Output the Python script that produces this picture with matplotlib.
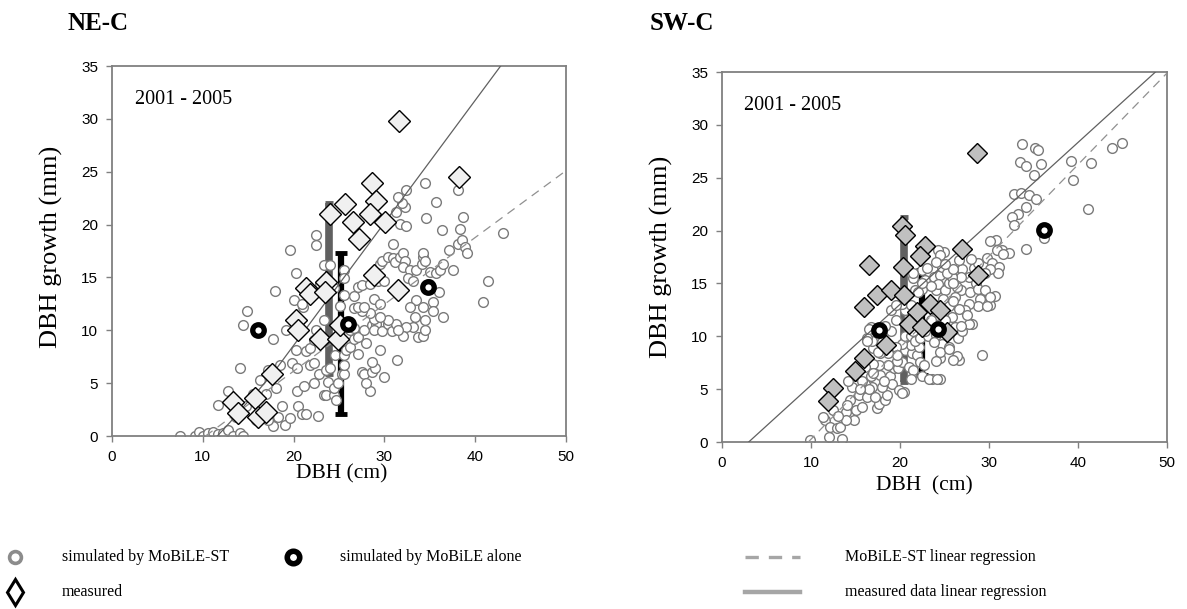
import matplotlib
matplotlib.use("Agg")
import matplotlib.pyplot as plt
from matplotlib.lines import Line2D

# ---------------- data ----------------
# NE-C : simulated by MoBiLE-ST (DBH cm, growth mm)
ne_sim_dbh = [7.5, 9.1, 9.6, 10.0, 10.6, 11.1, 11.7, 12.2, 12.8, 13.3, 14.1, 14.4, 11.7,
              12.8, 14.1, 13.7, 14.8, 15.9, 16.6, 17.0, 18.1, 17.7, 18.7, 19.0, 19.6, 18.5, 16.3, 17.2, 15.5, 18.3, 17.2,
              14.4, 14.9, 17.7, 17.9, 19.6, 20.3, 20.0, 21.0, 22.5, 22.5, 19.8, 20.4, 20.4, 20.5, 20.9, 21.4, 22.7, 21.2,
              21.8, 22.2, 22.2, 22.8, 20.3, 21.4, 21.8, 22.5, 22.2,
              23.4, 23.6, 23.8, 24.4, 24.4, 24.7, 24.9, 23.6, 24.0, 24.6, 25.3, 25.6, 25.6, 25.6, 25.8, 26.2, 26.6, 26.2,
              26.6, 27.1, 27.5, 27.8, 28.4, 28.0, 28.6, 29.0, 30.0, 28.6, 29.5, 28.0, 27.1, 27.7, 28.6, 29.1, 28.9, 29.7,
              30.4, 30.8, 31.3, 30.4, 28.9, 29.5, 28.4, 27.5, 26.6, 27.1, 27.7, 28.8, 29.5, 26.6, 27.1, 27.5, 28.4, 29.3,
              30.0, 29.5, 29.7, 30.4, 31.0, 31.2, 31.7, 32.1, 32.3, 32.1, 32.8, 32.6, 33.2, 33.5, 34.1, 34.3, 34.3, 34.5,
              35.0, 35.7, 36.1, 36.5, 37.1, 37.6, 38.1, 38.3, 38.7, 38.5, 38.9, 39.1, 38.1, 35.7, 36.3, 34.5, 34.6, 32.4,
              32.3, 31.9, 31.5, 31.3, 31.7, 32.4, 31.0, 33.5, 32.8, 33.4, 34.3, 33.2, 32.4, 32.1, 31.5, 33.7, 34.3, 34.5,
              34.5, 35.4, 35.4, 36.0, 34.9, 31.4, 40.9, 41.4, 43.1, 36.5,
              23.4, 24.0, 25.5, 25.6, 25.6, 25.1, 23.4, 22.9, 24.4, 20.9, 19.2]
ne_sim_growth = [0.0, 0.0, 0.4, 0.0, 0.25, 0.4, 0.15, 0.25, 0.6, 0.0, 0.25, 0.0, 2.9,
                 4.3, 6.4, 1.8, 2.8, 1.5, 2.1, 4.0, 4.5, 0.9, 2.8, 1.0, 1.7, 6.7, 5.3, 6.2, 4.0, 1.8, 1.5,
                 10.5, 11.8, 9.2, 13.7, 17.6, 15.4, 12.9, 12.2, 19.0, 18.1, 6.9, 6.4, 4.3, 2.8, 2.1, 2.1, 1.9, 4.7,
                 6.7, 6.9, 5.0, 5.9, 8.1, 8.0, 8.3, 10.0, 9.1,
                 3.9, 3.9, 5.1, 3.9, 4.5, 3.4, 5.0, 6.2, 6.4, 7.7, 5.9, 5.9, 6.7, 7.7, 8.1, 8.4, 9.2, 10.0,
                 10.2, 7.8, 6.1, 5.9, 4.3, 5.0, 6.1, 6.4, 5.6, 7.0, 8.1, 8.8, 9.4, 10.0, 10.5, 10.6, 10.0, 9.9,
                 10.6, 9.9, 10.6, 11.0, 11.1, 11.3, 11.6, 11.8, 12.1, 12.2, 12.2, 13.0, 12.5, 13.2, 14.1, 14.3, 14.4, 14.7,
                 14.7, 16.3, 16.6, 16.9, 16.8, 16.5, 16.9, 17.3, 16.6, 16.0, 15.7, 14.9, 14.7, 15.7, 16.3, 16.9, 17.3, 16.6,
                 15.5, 15.4, 15.7, 16.3, 17.6, 15.7, 18.2, 19.6, 20.7, 18.5, 17.9, 17.3, 23.3, 22.1, 19.5, 23.9, 20.6, 23.3,
                 21.7, 22.0, 22.6, 21.2, 20.1, 19.9, 18.2, 12.9, 12.2, 11.3, 12.2, 10.3, 10.3, 9.5, 10.0, 9.4, 9.5, 10.0,
                 11.0, 12.7, 11.8, 13.6, 14.4, 7.2, 12.7, 14.7, 19.2, 11.3,
                 16.2, 16.2, 15.7, 14.9, 13.3, 12.3, 11.0, 14.4, 14.0, 12.5, 10.0]

# NE-C : simulated by MoBiLE alone
ne_alone_dbh = [16.1, 26.0, 34.8]
ne_alone_growth = [10.0, 10.6, 14.1]

# NE-C : measured
ne_meas_dbh = [31.6, 38.2, 28.6, 29.1, 25.7, 24.0, 28.4, 26.5, 30.1, 27.2, 28.8, 31.5, 23.6, 21.4,
               21.8, 23.5, 20.3, 20.5, 22.9, 24.9, 25.1, 17.6, 13.3, 13.9, 15.7, 16.1, 17.0]
ne_meas_growth = [29.8, 24.5, 23.9, 22.2, 21.9, 21.0, 21.0, 20.2, 20.2, 18.6, 15.2, 13.8, 14.6, 14.0,
                  13.4, 13.6, 11.0, 10.0, 9.2, 9.2, 10.5, 5.9, 3.2, 2.2, 3.6, 1.8, 2.3]

# NE-C : regression lines
ne_reg_meas_x = [11.6, 13.0, 14.5, 16.0, 17.7, 42.8]
ne_reg_meas_y = [0.0, 1.3, 2.8, 4.2, 5.9, 35.0]
ne_reg_sim_x = [10.3, 50.0]
ne_reg_sim_y = [0.0, 25.1]

# NE-C : ranges (x, low, high) for measured (grey) and simulated (black)
ne_range_meas = [23.9, 5.9, 22.0]
ne_range_sim = [25.2, 2.1, 17.3]

# SW-C : simulated by MoBiLE-ST
sw_sim_dbh = [33.7, 35.2, 35.5, 33.5, 34.2, 35.8, 35.1, 39.2, 41.5, 43.8, 44.9, 39.4, 32.8, 33.6, 34.5, 35.3,
              34.2, 33.3, 32.6, 32.8, 41.1, 36.2, 34.2, 30.8, 31.5, 32.2, 29.8, 30.3, 31.1, 31.0, 30.1, 27.0,
              27.7, 26.9, 28.5, 26.8, 27.9, 28.8, 29.6, 30.7, 30.1, 29.0, 28.8, 27.7, 27.3, 28.1, 26.6, 29.2, 26.6,
              9.9, 12.0, 13.5, 11.6, 12.1, 12.9, 13.3, 13.9, 12.5, 11.4, 14.8, 15.0, 14.4, 15.7, 15.4, 16.3, 17.4,
              17.6, 17.2, 18.3, 18.5, 18.0, 16.9, 16.1, 14.6, 14.2, 15.0, 15.7, 16.7, 17.8, 18.9, 19.1, 18.2, 20.4,
              19.3, 19.8, 20.2, 19.7, 18.7, 17.6, 17.0, 16.1, 21.0, 21.5, 21.2, 22.5, 23.6, 24.5, 24.5, 20.6, 21.3,
              21.9, 22.3, 21.2, 22.1, 20.2, 19.5, 19.7, 18.7, 17.8, 17.0, 16.9, 16.3, 16.7, 20.6, 21.2, 21.7, 22.3,
              23.2, 24.0, 24.7, 24.0, 22.1, 21.0, 20.6, 20.2, 21.2, 21.5, 21.7, 22.5, 22.8, 22.5, 23.8, 24.5, 24.7,
              24.9, 24.0, 24.3, 25.1, 25.5, 25.8, 25.3, 26.0, 26.6, 26.4, 26.2, 25.8, 26.2, 25.5, 26.4, 22.7, 13.9,
              16.5, 16.3, 23.3, 24.2, 26.0, 27.7, 24.3, 24.5, 30.1, 30.9, 31.6, 30.1, 29.8, 19.9, 20.2,
              22.0, 23.5, 24.8, 25.5, 26.0, 25.0, 24.2, 23.5, 22.8, 23.8, 24.5, 25.5, 26.5, 27.0, 21.5, 20.8, 19.0,
              19.5, 18.3, 18.0, 17.5, 17.0, 16.5, 15.5, 14.0, 13.0, 19.0, 19.5, 21.5, 22.5, 23.0, 24.0, 25.0, 26.0,
              26.8, 27.5, 28.3, 28.8, 29.5, 28.0]
sw_sim_growth = [28.2, 27.8, 27.6, 26.5, 26.1, 26.3, 25.3, 26.6, 26.4, 27.8, 28.3, 24.8, 23.5, 23.6, 23.4, 23.0,
                 22.2, 21.6, 21.3, 20.5, 22.0, 19.3, 18.3, 19.1, 18.2, 17.9, 17.4, 16.9, 16.6, 16.0, 16.4, 16.4,
                 15.6, 15.6, 15.0, 14.4, 14.2, 14.5, 14.4, 13.8, 13.0, 13.5, 12.9, 13.1, 12.5, 11.2, 12.6, 8.2, 7.8,
                 0.2, 0.5, 0.3, 2.1, 1.4, 1.3, 1.4, 2.8, 3.0, 2.4, 2.1, 3.0, 4.0, 3.3, 4.4, 4.3, 3.2,
                 3.6, 4.3, 4.0, 4.4, 5.2, 5.2, 5.5, 5.2, 5.8, 6.2, 5.8, 6.2, 6.3, 6.2, 5.5, 5.8, 4.7,
                 7.0, 7.0, 7.6, 7.7, 7.3, 7.3, 7.4, 7.1, 7.1, 6.8, 6.0, 6.2, 6.0, 6.0, 7.9, 8.7, 8.4,
                 8.2, 7.6, 9.2, 9.0, 9.3, 9.0, 8.2, 8.4, 8.4, 8.9, 9.6, 9.8, 10.9, 10.0, 10.0, 9.6, 9.8,
                 10.0, 10.1, 9.3, 7.7, 11.2, 11.8, 12.5, 13.1, 13.0, 15.5, 14.4, 14.5, 15.3, 16.3, 15.6, 15.8, 16.6,
                 18.0, 14.4, 14.9, 14.4, 15.0, 15.6, 16.0, 16.4, 17.2, 14.7, 13.7, 11.8, 10.9, 9.0, 8.1, 7.3, 2.1,
                 10.7, 9.6, 6.0, 6.0, 7.8, 11.2, 18.2, 17.7, 19.0, 18.2, 17.8, 13.7, 12.9, 4.9, 4.6,
                 14.2, 14.8, 13.5, 12.9, 13.3, 11.5, 12.0, 11.5, 10.5, 9.5, 8.5, 8.8, 9.8, 10.5, 10.5, 11.0, 10.5,
                 11.5, 11.0, 9.5, 8.5, 6.5, 5.0, 5.0, 3.5, 2.5, 12.5, 13.0, 16.0, 15.0, 16.5, 17.0, 16.8, 15.0,
                 11.0, 12.0, 16.5, 16.9, 16.0, 17.3]

# SW-C : simulated by MoBiLE alone
sw_alone_dbh = [17.6, 24.3, 36.2]
sw_alone_growth = [10.6, 10.7, 20.1]

# SW-C : measured
sw_meas_dbh = [28.7, 20.2, 20.6, 16.5, 20.3, 22.8, 22.3, 27.0, 28.8, 17.4, 19.0, 15.9, 20.5, 21.9,
               23.4, 24.5, 21.0, 22.5, 25.3, 18.4, 15.9, 14.9, 12.5, 11.9]
sw_meas_growth = [27.3, 20.4, 19.6, 16.7, 16.6, 18.5, 17.6, 18.3, 15.8, 13.9, 14.4, 12.8, 13.9, 12.3,
                  13.1, 12.5, 11.2, 10.9, 10.4, 9.2, 7.9, 6.7, 5.1, 3.9]

# SW-C : regression lines
sw_reg_meas_x = [3.0, 48.7]
sw_reg_meas_y = [0.0, 35.0]
sw_reg_sim_x = [9.7, 50.0]
sw_reg_sim_y = [0.0, 34.9]

sw_range_meas = [20.5, 5.7, 21.3]
sw_range_sim = [22.5, 6.3, 16.3]

x_ticks = [0, 10, 20, 30, 40, 50]
y_ticks = [0, 5, 10, 15, 20, 25, 30, 35]
period_label = "2001 - 2005"

# ---------------- style ----------------
SERIF = ["Liberation Serif", "DejaVu Serif"]
SANS = ["Liberation Sans", "DejaVu Sans"]
SPINE = "#808080"
CIRC_EDGE = "#7a7a7a"

W, H = 1187, 609
fig = plt.figure(figsize=(W / 100, H / 100), dpi=100)


def px_axes(x0, y0, x1, y1):
    return fig.add_axes([x0 / W, 1 - y1 / H, (x1 - x0) / W, (y1 - y0) / H])


def draw_panel(ax, sim_x, sim_y, alone_x, alone_y, meas_x, meas_y, rmx, rmy, rsx, rsy,
               rng_meas, rng_sim, diam_face, diam_ms):
    # ranges
    for rng, col, lw, cap in [(rng_meas, "#606060", 5.5, 3.0), (rng_sim, "black", 4.5, 4.5)]:
        xx, lo, hi = rng
        ax.errorbar([xx], [(lo + hi) / 2], yerr=[[(hi - lo) / 2], [(hi - lo) / 2]], fmt="none",
                    ecolor=col, elinewidth=lw, capsize=cap, capthick=3.5, zorder=1)
    ax.plot(sim_x, sim_y, linestyle="none", marker="o", ms=7.0, mfc="white",
            mec=CIRC_EDGE, mew=1.0, zorder=2)
    ax.plot(rmx, rmy, color="#606060", lw=0.9, zorder=3)
    ax.plot(rsx, rsy, color="#909090", lw=0.9, dashes=(7, 5), zorder=3)
    ax.plot(meas_x, meas_y, linestyle="none", marker="D", ms=diam_ms, mfc=diam_face,
            mec="black", mew=1.0, zorder=4)
    ax.plot(alone_x, alone_y, linestyle="none", marker="o", ms=8.3, mfc="white",
            mec="black", mew=3.8, zorder=5)
    ax.set_xlim(0, 50)
    ax.set_ylim(0, 35)
    ax.set_xticks(x_ticks)
    ax.set_yticks(y_ticks)
    for sp in ax.spines.values():
        sp.set_color(SPINE)
        sp.set_linewidth(1.3)
    ax.tick_params(direction="out", length=4, width=1.0, color=SPINE, labelsize=11, pad=6)
    for lab in ax.get_xticklabels() + ax.get_yticklabels():
        lab.set_fontfamily(SANS)
    ax.text(0.05, 0.91, period_label, transform=ax.transAxes, fontsize=14.5,
            family=SERIF, va="center", ha="left")
    ax.set_ylabel("DBH growth (mm)", fontsize=19, family=SERIF)


axL = px_axes(112, 66, 566, 436)
draw_panel(axL, ne_sim_dbh, ne_sim_growth, ne_alone_dbh, ne_alone_growth, ne_meas_dbh, ne_meas_growth,
           ne_reg_meas_x, ne_reg_meas_y, ne_reg_sim_x, ne_reg_sim_y, ne_range_meas, ne_range_sim,
           "#f0f0f0", 11.3)
axL.set_xlabel("DBH (cm)", fontsize=15.5, family=SERIF)
axL.xaxis.set_label_coords(0.507, -0.075)
axL.yaxis.set_label_coords(-0.108, 0.51)

axR = px_axes(722, 72, 1167, 442)
draw_panel(axR, sw_sim_dbh, sw_sim_growth, sw_alone_dbh, sw_alone_growth, sw_meas_dbh, sw_meas_growth,
           sw_reg_meas_x, sw_reg_meas_y, sw_reg_sim_x, sw_reg_sim_y, sw_range_meas, sw_range_sim,
           "#c0c0c0", 10.3)
axR.set_xlabel("DBH  (cm)", fontsize=15.5, family=SERIF)
axR.xaxis.set_label_coords(0.454, -0.093)
axR.yaxis.set_label_coords(-0.11, 0.5)

fig.text(68 / W, 1 - 23 / H, "NE-C", fontsize=18, fontweight="bold", family=SERIF, va="center")
fig.text(650 / W, 1 - 24 / H, "SW-C", fontsize=18, fontweight="bold", family=SERIF, va="center")

# ---------------- legend (drawn in pixel space) ----------------
lax = fig.add_axes([0, 0, 1, 1])
lax.set_xlim(0, W)
lax.set_ylim(H, 0)
lax.axis("off")
r1, r2 = 557, 592
lax.add_line(Line2D([15], [r1], marker="o", ms=8.5, mfc="white", mec="#8c8c8c", mew=2.6))
lax.add_line(Line2D([293], [r1], marker="o", ms=9, mfc="white", mec="black", mew=4.0))
lax.add_line(Line2D([745, 800], [r1, r1], color="#a6a6a6", lw=2.4, dashes=(4, 3)))
lax.add_line(Line2D([15], [r2], marker="d", ms=13, mfc="white", mec="black", mew=2.2))
lax.add_line(Line2D([745, 800], [r2, r2], color="#a6a6a6", lw=3.2))
leg_fs = 11.5
for x, y, s in [(62, r1, "simulated by MoBiLE-ST"), (340, r1, "simulated by MoBiLE alone"),
                (845, r1, "MoBiLE-ST linear regression"), (62, r2, "measured"),
                (845, r2, "measured data linear regression")]:
    lax.text(x, y, s, fontsize=leg_fs, family=SERIF, va="center", ha="left")

fig.savefig("out.png", dpi=100)
